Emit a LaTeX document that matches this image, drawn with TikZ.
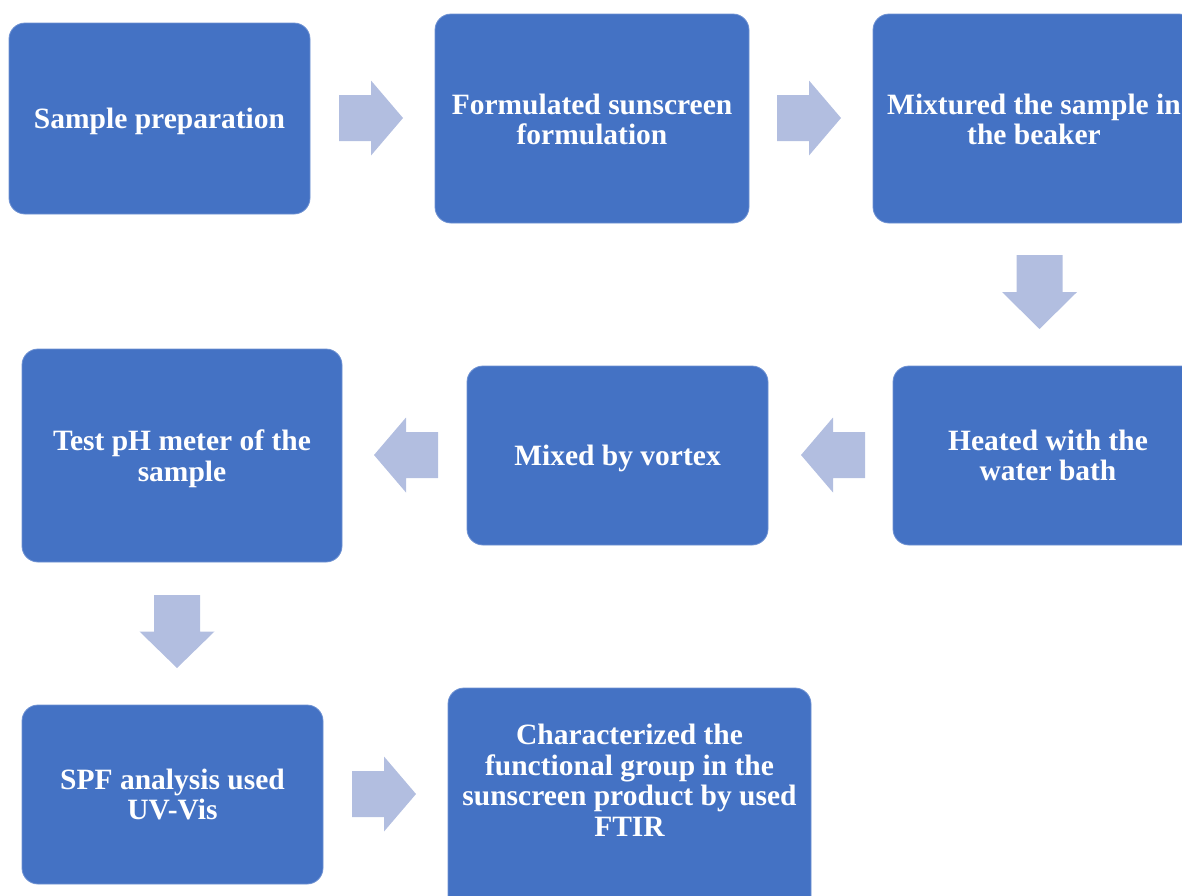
\documentclass[tikz,border=0pt]{standalone}
\usepackage{fontspec}
\setmainfont{Liberation Serif}
\definecolor{boxblue}{RGB}{68,114,196}
\definecolor{boxedge}{RGB}{110,145,210}
\definecolor{arrowfill}{RGB}{178,190,224}
\tikzset{
  x=1pt, y=-1pt,
  box/.style={draw=boxedge, line width=0.8pt, fill=boxblue, rounded corners=16pt, inner sep=0pt},
  boxtext/.style={text=white, align=center, font=\fontsize{29.5}{30.5}\selectfont\bfseries},
  blockarrow/.pic={\fill[arrowfill] (0,-23) -- (#1,-23) -- (#1,-37.5) -- (#1*2,0) -- (#1,37.5) -- (#1,23) -- (0,23) -- cycle;}
}
\begin{document}
\begin{tikzpicture}
\useasboundingbox (0,0) rectangle (1182,895);
\clip (0,0) rectangle (1182,895);
% boxes
\node[box, minimum width=301pt, minimum height=191pt] (b1) at (159.5,118.5) {};
\node[boxtext] (t1) at ([yshift=-3pt]b1.center) {Sample preparation};
\node[box, minimum width=314pt, minimum height=209pt] (b2) at (592,118.5) {};
\node[boxtext] (t2) at ([yshift=-1pt]b2.center) {Formulated sunscreen\\formulation};
\node[box, minimum width=322pt, minimum height=209pt] (b3) at (1034,118.5) {};
\node[boxtext] (t3) at ([yshift=-1pt]b3.center) {Mixtured the sample in\\the beaker};
\node[box, minimum width=310pt, minimum height=179pt] (b4) at (1048,455.5) {};
\node[boxtext] (t4) at (b4.center) {Heated with the\\water bath};
\node[box, minimum width=301pt, minimum height=179pt] (b5) at (617.5,455.5) {};
\node[boxtext] (t5) at ([yshift=-3pt]b5.center) {Mixed by vortex};
\node[box, minimum width=320pt, minimum height=213pt] (b6) at (182,455.5) {};
\node[boxtext] (t6) at ([yshift=-3pt]b6.center) {Test pH meter of the\\sample};
\node[box, minimum width=301pt, minimum height=179pt] (b7) at (172.5,794.5) {};
\node[boxtext] (t7) at (b7.center) {SPF analysis used\\UV-Vis};
\node[box, minimum width=363pt, minimum height=240pt] (b8) at (629.5,808) {};
\node[boxtext] (t8) at (629.5,780) {Characterized the\\functional group in the\\sunscreen product by used\\FTIR};
% block arrows
\pic at (339,118) {blockarrow=32};
\pic at (777,118) {blockarrow=32};
\pic[rotate=-90] at (1039.5,255) {blockarrow=37};
\pic[rotate=180] at (865,455) {blockarrow=32};
\pic[rotate=180] at (438,455) {blockarrow=32};
\pic[rotate=-90] at (177,595) {blockarrow=36.5};
\pic at (352,794) {blockarrow=32};
\end{tikzpicture}
\end{document}
